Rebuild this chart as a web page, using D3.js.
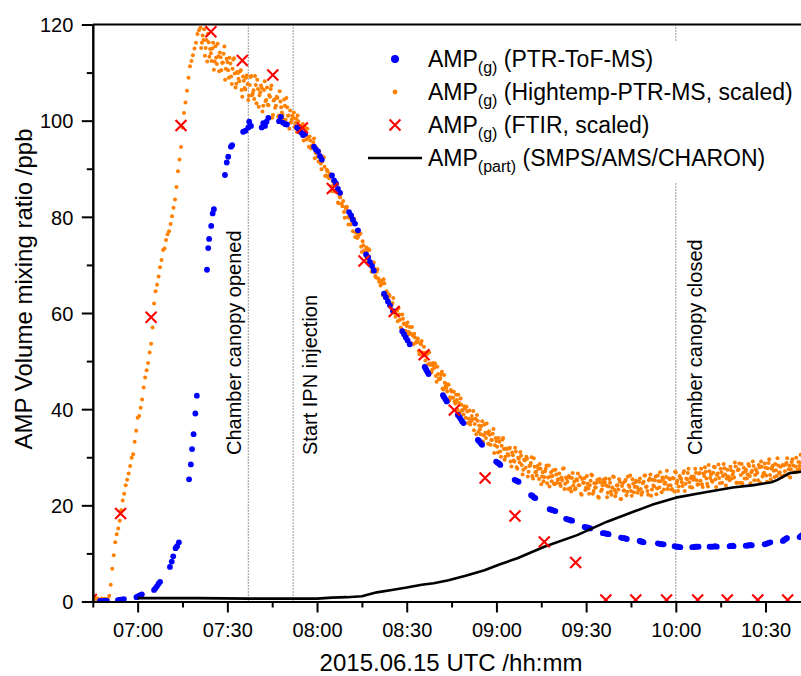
<!DOCTYPE html>
<html><head><meta charset="utf-8">
<script src="https://cdnjs.cloudflare.com/ajax/libs/d3/7.8.5/d3.min.js"></script>
<style>
body{margin:0;background:#fff}
svg{display:block}
text{font-family:"Liberation Sans",Arial,Helvetica,sans-serif;fill:#000}
</style>
</head><body>
<svg id="chart" width="801" height="676"></svg>
<script>
// ---------------- DATA (times in minutes after 06:00 UTC, 2015.06.15) ----------------
const xDomainTimes = ["06:45", "10:42"];
const yDomain = [0, 120];
const majorTimeTicks = ["07:00","07:30","08:00","08:30","09:00","09:30","10:00","10:30"];
const minorTimeTicks = ["06:45","07:15","07:45","08:15","08:45","09:15","09:45","10:15","10:45"];
const yMajorTicks = [0, 20, 40, 60, 80, 100, 120];
const yMinorTicks = [10, 30, 50, 70, 90, 110];

// Hightemp-PTR-MS (scaled): sampling every 0.5 min starting 06:45
const hightempStartMin = 45;
const hightempStepMin = 0.5;
const hightempValues = [
0.6,0.3,0.5,0.7,0.2,0.4,0.6,0.3,0.5,0.4,
0.5,1.2,3.5,6.8,9.6,12.3,14.0,15.2,16.8,19.0,
21.0,22.4,24.2,25.3,26.6,28.2,29.9,30.6,33.2,35.5,
38.2,38.6,40.3,42.0,44.5,46.6,48.1,49.6,51.8,53.6,
57.0,62.0,64.5,65.9,67.6,69.5,71.0,73.1,73.4,75.2,
76.4,77.0,78.5,80.1,81.9,83.6,86.2,89.5,91.9,94.5,
98.6,101.6,103.8,106.2,108.9,111.3,112.4,113.6,115.0,116.2,
118.0,118.8,
119.3,116.2,116.8,113.5,116.8,118.1,113.3,114.0,115.0,110.6,
115.5,111.8,113.4,114.2,110.5,112.1,115.4,110.8,112.2,108.9,
111.9,107.6,112.7,109.8,107.7,109.9,108.2,110.5,105.0,108.3,
106.5,109.4,104.3,107.4,109.3,105.7,104.5,107.4,108.5,102.9,
105.9,106.8,103.1,108.2,104.3,103.3,105.3,106.6,100.6,104.2,
102.7,105.0,100.8,106.1,102.8,101.2,104.4,100.2,102.8,101.1,
102.1,100.2,100.6,98.7,100.4,101.1,98.1,98.4,98.8,95.9,
98.6,96.1,96.6,96.7,94.2,94.7,96.3,93.3,93.8,91.5,
92.8,89.9,92.4,90.4,88.6,89.5,88.0,88.8,85.3,86.6,
85.2,86.4,83.0,84.2,84.8,82.2,81.0,82.0,82.1,78.4,
79.7,79.6,77.0,79.4,76.7,75.6,76.3,76.6,72.7,74.1,
72.8,73.6,70.6,73.1,70.6,69.3,70.5,67.7,68.6,67.2,
66.6,66.7,63.7,66.2,63.6,63.9,63.9,61.3,61.7,63.1,
60.0,60.5,58.3,59.7,57.0,59.7,57.8,56.3,57.3,56.1,
57.1,53.7,55.3,55.7,53.8,54.1,52.1,53.7,54.2,51.1,
51.7,51.8,49.3,51.8,49.2,48.2,49.1,49.5,45.7,47.3,
46.2,47.2,44.3,47.1,44.8,43.7,45.1,42.5,43.7,42.4,
41.6,43.0,39.9,41.3,42.2,39.8,38.9,40.2,40.5,37.1,
39.7,37.5,37.9,35.6,38.0,38.8,35.3,35.8,36.5,33.3,
36.8,34.0,35.0,35.4,32.6,33.6,35.9,32.5,33.4,31.0,
33.2,30.1,33.7,31.7,30.1,31.7,30.4,32.0,28.1,30.4,
29.1,31.2,27.6,29.7,31.1,28.4,27.4,29.4,30.1,26.0,
28.2,28.8,26.1,29.8,26.9,26.2,27.6,28.6,24.4,26.9,
25.9,27.6,24.6,28.3,26.0,25.0,27.3,24.4,26.4,25.3,
26.6,24.0,25.2,27.7,24.5,25.6,23.4,25.8,22.9,26.7,
24.9,23.5,25.2,24.2,25.9,22.2,24.7,25.7,23.7,24.5,
22.4,25.1,26.2,23.0,23.7,24.7,21.8,25.5,23.0,24.2,
24.7,25.6,21.7,23.9,24.7,22.2,26.0,23.2,22.6,24.2,
25.4,21.3,24.0,23.1,25.0,22.1,26.0,23.8,23.0,25.4,
22.7,24.8,23.8,23.2,25.6,22.2,24.6,26.2,23.8,23.0,
25.2,26.4,23.3,24.1,25.2,22.3,26.2,23.7,25.0,25.8,
23.3,24.7,27.2,24.1,25.4,23.3,25.7,22.9,26.9,25.1,
23.9,25.8,24.8,26.7,23.0,25.6,26.7,24.8,25.7,23.7,
26.0,27.6,25.2,24.4,26.7,27.6,23.8,26.1,27.0,24.5,
28.4,25.7,25.1,26.8,27.9,23.8,26.6,25.7,27.6,24.7,
28.6,26.4,25.6,26.0,25.2,27.3,26.4,25.8,28.1,24.7,
27.5,24.7,28.6,26.8,25.6,27.4,26.4,28.2,24.6,27.2,
28.2,26.3,27.2,25.2,27.9,29.1,26.0,26.8,27.8,24.9,
28.8,26.3,27.6,28.3,25.9,27.3,29.8,26.7,28.0,25.9,
28.3,27.1,28.8,26.3,28.3,27.5,29.6,26.9,28.1,26.9,
29.0,27.5,28.9
];
// interleaved second sample set (every 0.5 min from 07:21:15)
const hightempBStartMin = 81.25;
const hightempBValues = [
115.1,117.7,119.0,115.1,112.3,116.3,114.9,112.4,116.2,112.3,
113.1,116.0,110.3,113.2,112.0,113.9,108.5,112.9,110.5,113.1,
109.2,110.8,113.0,106.9,110.1,108.7,110.2,106.4,109.2,106.8,
108.9,107.6,105.2,109.1,105.3,106.3,109.3,103.6,106.6,105.3,
107.3,101.9,106.4,104.1,106.9,103.2,105.0,107.3,101.2,104.4,
103.1,104.7,101.1,104.0,101.7,100.3,103.1,104.7,101.0,98.3,
99.6,101.0,101.7,99.5,97.7,99.9,98.9,97.3,99.3,96.8,
97.0,98.3,94.6,95.9,94.8,95.5,92.2,94.3,92.6,93.7,
91.1,91.5,92.4,88.5,89.8,88.5,88.9,86.3,87.4,85.5,
85.5,86.7,82.8,84.0,82.7,83.3,79.8,81.7,79.9,81.0,
78.4,78.8,79.7,75.8,77.2,75.9,76.4,73.8,74.9,73.0,
71.8,72.9,73.3,70.7,68.6,70.5,69.2,67.4,69.1,66.5,
65.7,66.1,67.0,63.1,64.5,63.1,63.6,61.0,62.1,60.3,
59.2,60.5,61.0,58.6,56.7,58.8,57.7,56.1,58.0,55.6,
55.8,57.1,53.5,54.9,53.9,54.7,51.4,53.5,51.8,53.0,
50.1,51.4,51.9,49.5,47.6,49.6,48.6,46.9,48.8,46.3,
46.5,47.8,44.1,45.5,44.4,45.2,41.8,44.0,42.4,43.6,
41.2,41.9,43.0,39.3,40.9,39.8,40.6,38.2,39.5,38.0,
36.8,38.6,39.6,36.9,34.8,37.6,36.6,34.8,37.5,34.6,
35.1,37.0,32.8,34.7,33.6,34.9,30.9,34.0,32.2,34.0,
31.2,32.4,34.0,29.5,31.8,30.7,31.8,29.1,31.0,29.3,
32.0,27.9,29.9,28.9,30.3,26.4,29.5,27.8,29.7,27.0,
28.3,30.0,25.6,28.0,27.0,28.2,25.5,27.6,26.0,25.0,
27.1,28.3,25.8,23.9,26.9,26.1,24.5,27.4,24.7,25.4,
24.5,25.8,27.6,23.4,25.8,24.9,26.1,23.6,25.7,24.1,
23.3,25.4,26.6,24.2,22.4,25.5,24.7,23.2,26.1,23.5,
24.2,26.4,22.4,24.6,23.7,25.3,21.6,24.8,23.3,25.3,
24.8,24.1,22.6,25.5,22.9,23.7,25.9,21.9,24.1,23.3,
24.9,21.3,24.6,23.1,25.3,22.8,24.2,26.2,22.0,24.5,
23.8,25.1,22.6,24.9,23.4,22.7,24.9,26.2,23.9,22.2,
25.6,22.0,25.3,23.9,26.0,23.5,25.0,26.9,22.7,25.3,
24.5,25.9,23.4,25.6,24.2,23.4,25.6,27.0,24.6,23.0,
26.1,25.5,24.0,27.1,24.5,25.4,27.6,23.8,26.0,25.3,
25.4,26.8,24.3,26.6,25.1,24.4,26.6,27.9,25.6,23.9,
27.1,26.4,24.9,28.0,25.4,26.3,28.5,24.6,26.9,26.1,
27.7,24.1,27.4,25.9,28.0,25.6,27.0,28.9,24.7,27.3,
28.7,26.3,24.6,27.8,27.1,25.6,28.6,26.1,26.9,29.1,
25.2,27.5,26.7,28.4,24.7,28.0,26.5,28.7,26.2,27.7,
29.6,25.4,28.0,27.2,28.6,26.1,28.3,26.9,26.1,28.4,
26.2,28.5,29.8,27.5,25.8,29.0,28.3,26.9,29.9,27.4,
28.2,30.5
];

// PTR-ToF-MS: measured in bursts
const ptrTimes = [
47.4,48.0,48.6,49.2,49.7,
53.4,53.9,54.4,54.9,55.4,
59.6,60.0,60.5,61.0,61.4,
65.5,66.0,66.5,67.0,67.5,
70.8,71.4,71.9,72.7,73.2,73.8,
77.2,77.8,78.2,78.7,79.3,79.8,
83.2,83.6,83.9,84.6,85.1,85.5,
89.2,89.8,90.3,91.2,91.6,
95.3,96.1,97.0,97.3,97.9,
101.5,102.0,102.6,103.1,103.7,
107.3,107.9,108.6,109.3,109.9,
113.3,113.9,114.6,115.3,116.0,
119.0,119.6,120.3,121.0,121.6,
125.0,125.7,126.3,127.0,127.7,
130.7,131.4,132.0,132.7,133.7,
136.4,137.1,137.7,138.4,139.0,
142.4,143.0,143.7,144.4,145.4,
148.5,149.1,149.7,150.3,151.0,
156.0,156.3,156.6,157.0,157.3,
162.1,162.4,162.7,163.1,163.4,
167.1,167.6,168.0,168.5,169.0,
173.8,174.2,174.5,174.9,175.2,
179.9,180.3,180.6,181.0,181.3,
186.1,186.4,186.8,187.1,187.4,
191.6,192.0,192.3,192.7,193.0,
197.8,198.3,198.8,199.2,199.7,
203.3,203.8,204.3,204.8,205.3,
209.5,210.0,210.5,210.9,211.4,
215.6,216.1,216.6,217.0,217.5,
221.7,222.2,222.7,223.1,223.6,
227.9,228.2,228.6,228.9,229.2,
234.0,234.5,235.0,235.4,235.9,
239.6,240.1,240.6,241.0,241.5,
245.5,246.0,246.6,247.1,247.6,
251.3,251.9,252.5,253.1,253.7,
258.0,258.3,258.7,259.0,259.3,
263.4,263.9,264.4,264.9,265.4,
269.7,270.2,270.7,271.1,271.6,
275.8,276.2,276.5,276.9,277.2,
281.4,281.8,282.2
];
const ptrValues = [
0.1,0.0,0.1,0.2,0.1,
0.3,0.3,0.4,0.4,0.5,
0.9,1.0,1.2,1.3,1.5,
2.4,2.8,3.2,3.7,4.1,
7.2,8.3,9.4,11.1,11.5,12.3,
25.4,28.5,31.7,34.8,39.1,42.8,
69.0,73.5,75.4,78.1,80.7,81.6,
88.7,91.3,92.5,94.6,94.9,
97.7,97.9,98.6,99.8,98.9,
98.6,99.5,98.9,99.8,100.6,
99.9,100.8,99.6,99.3,99.2,
98.6,98.2,97.6,97.0,97.3,
94.6,94.0,93.6,92.6,91.9,
88.6,87.6,87.0,85.8,85.0,
81.0,80.3,79.4,78.6,77.2,
72.2,71.6,70.6,69.8,68.8,
64.0,63.3,62.4,61.6,60.4,
56.2,55.6,54.9,54.3,53.5,
48.8,48.5,48.1,47.7,47.3,
42.9,42.6,42.3,41.9,41.6,
38.8,38.4,38.0,37.5,37.1,
33.6,33.4,33.1,32.8,32.6,
29.1,28.9,28.8,28.6,28.4,
25.3,25.2,25.1,25.0,24.9,
22.1,22.0,21.8,21.6,21.5,
19.2,19.1,19.0,18.9,18.8,
17.2,17.1,17.0,16.9,16.8,
15.5,15.4,15.4,15.3,15.2,
14.2,14.2,14.1,14.1,14.0,
13.3,13.2,13.2,13.1,13.0,
12.6,12.5,12.5,12.4,12.3,
12.1,12.0,12.0,11.9,11.9,
11.5,11.4,11.4,11.3,11.3,
11.3,11.3,11.4,11.4,11.4,
11.4,11.4,11.4,11.5,11.4,
11.5,11.5,11.5,11.6,11.5,
11.6,11.6,11.7,11.7,11.7,
11.9,12.0,12.1,12.2,12.3,
12.6,12.8,12.9,13.1,13.2,
13.4,13.6,13.8
];

// FTIR (scaled)
const ftirTimes = [44.5,54.3,64.5,74.5,84.5,95.0,105.2,115.1,125.1,135.7,145.8,155.8,165.9,176.2,186.2,196.0,206.5,216.6,226.6,236.9,247.3,257.2,267.4,277.4];
const ftirValues = [0.4,18.3,59.1,99.0,118.5,112.5,109.5,98.5,85.9,70.8,60.3,51.3,39.8,25.7,17.8,12.4,8.1,0.3,0.3,0.3,0.3,0.3,0.3,0.3];

// Particle phase (SMPS/AMS/CHARON)
const partTimes = [60,80,97,114,120,125,130,135,140,145,150,155,159,164,170,176,181,187,196,207,217,226,232,240,248,259,266,272,274,278,282];
const partValues = [0.7,0.7,0.6,0.6,0.6,0.8,0.9,1.1,1.9,2.4,2.9,3.5,3.8,4.4,5.4,6.5,7.7,9.0,11.4,13.8,16.6,18.7,20.1,21.6,22.5,23.7,24.2,24.8,25.3,26.7,27.0];

// Event markers
const eventTimes = ["07:37","07:52","10:00"];
const eventLabels = ["Chamber canopy opened","Start IPN injection","Chamber canopy closed"];

const legendMain = ["AMP","AMP","AMP","AMP"];
const legendSub = ["(g)","(g)","(g)","(part)"];
const legendRest = [" (PTR-ToF-MS)"," (Hightemp-PTR-MS, scaled)"," (FTIR, scaled)"," (SMPS/AMS/CHARON)"];

const xTitle = "2015.06.15 UTC /hh:mm";
const yTitle = "AMP Volume mixing ratio /ppb";

// ---------------- HELPERS ----------------
const baseMs = Date.UTC(2015, 5, 15, 6, 0);
const fromMin = m => new Date(baseMs + m * 60000);
const fromHM = s => { const [h, m] = s.split(":").map(Number); return fromMin((h - 6) * 60 + m); };

const W = 801, H = 676;
const plot = {left: 92.8, right: 801.4, top: 24.5, bottom: 601.5};

const svg = d3.select("#chart");
const x = d3.scaleUtc().domain(xDomainTimes.map(fromHM)).range([plot.left, plot.right]);
const y = d3.scaleLinear().domain(yDomain).range([plot.bottom, plot.top]);

svg.append("rect").attr("width", W).attr("height", H).attr("fill", "#fff");

svg.append("defs").append("clipPath").attr("id", "clip")
  .append("rect").attr("x", plot.left).attr("y", plot.top)
  .attr("width", plot.right - plot.left + 5).attr("height", plot.bottom - plot.top);

// event dotted lines
const ev = svg.append("g");
eventTimes.forEach(t => {
  ev.append("line")
    .attr("x1", x(fromHM(t))).attr("x2", x(fromHM(t)))
    .attr("y1", plot.top).attr("y2", plot.bottom)
    .attr("stroke", "#333").attr("stroke-width", 1).attr("stroke-dasharray", "1,2");
});

const data = svg.append("g").attr("clip-path", "url(#clip)");

// Hightemp orange
const hightemp = hightempValues.map((v, i) => ({t: hightempStartMin + i * hightempStepMin, v}))
  .concat(hightempBValues.map((v, i) => ({t: hightempBStartMin + i * hightempStepMin, v})));
data.append("g").selectAll("circle").data(hightemp).join("circle")
  .attr("cx", d => x(fromMin(d.t))).attr("cy", d => y(d.v)).attr("r", 2.0)
  .attr("fill", "#ff8000");

// PTR-ToF blue
const ptr = ptrTimes.map((t, i) => ({t, v: ptrValues[i]}));
data.append("g").selectAll("circle").data(ptr).join("circle")
  .attr("cx", d => x(fromMin(d.t))).attr("cy", d => y(d.v)).attr("r", 2.9)
  .attr("fill", "#0000ff");

// particle line
const part = partTimes.map((t, i) => ({t, v: partValues[i]}));
data.append("path").datum(part)
  .attr("d", d3.line().x(d => x(fromMin(d.t))).y(d => y(d.v)))
  .attr("fill", "none").attr("stroke", "#000").attr("stroke-width", 2.6)
  .attr("stroke-linejoin", "round");

// FTIR red X
const ftir = ftirTimes.map((t, i) => ({t, v: ftirValues[i]}));
const xSym = d3.symbol().type(d3.symbolX).size(80);
data.append("g").selectAll("path").data(ftir).join("path")
  .attr("transform", d => `translate(${x(fromMin(d.t))},${y(d.v)})`)
  .attr("d", xSym).attr("fill", "none").attr("stroke", "#ff0000").attr("stroke-width", 2.1);

// event labels
eventTimes.forEach((t, i) => {
  const off = [-7, 24, 26][i];
  svg.append("text")
    .attr("transform", `translate(${x(fromHM(t)) + off},455) rotate(-90)`)
    .attr("font-size", 20).text(eventLabels[i]);
});

// legend (white background box)
const lg = svg.append("g");
lg.append("rect").attr("x", 360).attr("y", 42).attr("width", 445).attr("height", 140).attr("fill", "#fff");
const rowY = i => 59 + i * 33;
lg.append("circle").attr("cx", 395).attr("cy", rowY(0)).attr("r", 4).attr("fill", "#0000ff");
lg.append("circle").attr("cx", 395).attr("cy", rowY(1)).attr("r", 2.4).attr("fill", "#ff8000");
lg.append("path").attr("transform", `translate(395,${rowY(2)})`)
  .attr("d", d3.symbol().type(d3.symbolX).size(80)).attr("fill", "none")
  .attr("stroke", "#ff0000").attr("stroke-width", 2.1);
lg.append("line").attr("x1", 368).attr("x2", 422).attr("y1", rowY(3)).attr("y2", rowY(3))
  .attr("stroke", "#000").attr("stroke-width", 2.6);
legendMain.forEach((m, i) => {
  const t = lg.append("text").attr("x", 428).attr("y", rowY(i) + 8).attr("font-size", 23);
  t.append("tspan").text(m);
  t.append("tspan").attr("font-size", 16).attr("dy", 6).text(legendSub[i]);
  t.append("tspan").attr("dy", -6).text(legendRest[i]);
});

// axes
const xAxis = svg.append("g").attr("transform", `translate(0,${plot.bottom})`)
  .call(d3.axisBottom(x).tickValues(majorTimeTicks.map(fromHM)).tickFormat(d3.utcFormat("%H:%M"))
    .tickSize(11).tickSizeOuter(0).tickPadding(10.5));
const xMinor = svg.append("g").attr("transform", `translate(0,${plot.bottom})`)
  .call(d3.axisBottom(x).tickValues(minorTimeTicks.map(fromHM).filter(d => x(d) <= plot.right)).tickFormat("")
    .tickSize(6).tickSizeOuter(0));
const yAxis = svg.append("g").attr("transform", `translate(${plot.left},0)`)
  .call(d3.axisLeft(y).tickValues(yMajorTicks).tickSize(11).tickSizeOuter(0).tickPadding(8.5));
const yMinor = svg.append("g").attr("transform", `translate(${plot.left},0)`)
  .call(d3.axisLeft(y).tickValues(yMinorTicks).tickFormat("").tickSize(6).tickSizeOuter(0));

[xAxis, xMinor, yAxis, yMinor].forEach(g => {
  g.selectAll(".domain").attr("stroke", "#000").attr("stroke-width", 2);
  g.selectAll(".tick line").attr("stroke", "#000").attr("stroke-width", 2);
  g.selectAll("text").attr("font-size", 20).attr("font-family", null).attr("fill", "#000");
});
yAxis.selectAll("text").attr("dy", "0.36em");

// top frame
svg.append("line").attr("x1", plot.left).attr("x2", W).attr("y1", plot.top).attr("y2", plot.top)
  .attr("stroke", "#000").attr("stroke-width", 2);

// titles
svg.append("text").attr("x", 451).attr("y", 671).attr("text-anchor", "middle")
  .attr("font-size", 24).text(xTitle);
svg.append("text").attr("transform", "translate(32,289) rotate(-90)").attr("text-anchor", "middle")
  .attr("font-size", 24).text(yTitle);
</script>
</body></html>
